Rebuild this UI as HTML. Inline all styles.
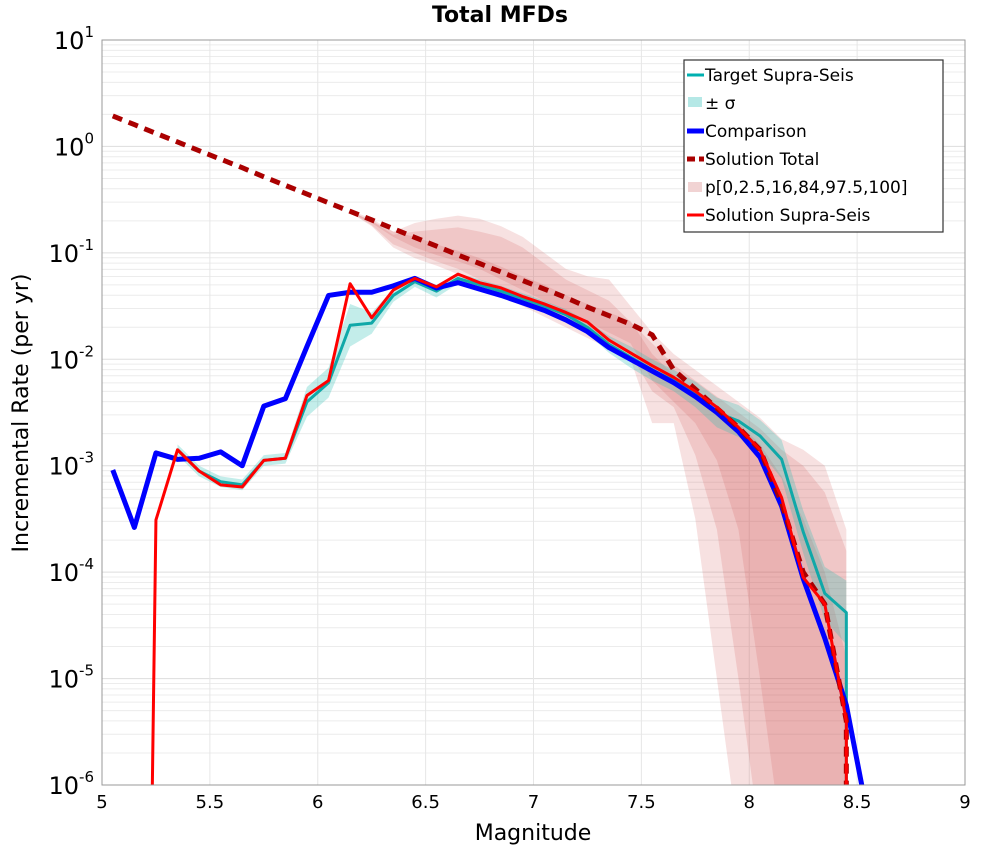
<!DOCTYPE html>
<html><head><meta charset="utf-8"><style>
body{margin:0;background:#fff;font-family:"Liberation Sans","DejaVu Sans",sans-serif}
svg text{font-family:"DejaVu Sans","Liberation Sans",sans-serif}
</style></head><body>
<svg id="chart" width="1000" height="850" xmlns="http://www.w3.org/2000/svg">
<defs><clipPath id="plotclip"><rect x="102" y="40" width="863" height="745"/></clipPath></defs>
<text x="500" y="22" text-anchor="middle" font-size="22" font-weight="bold">Total MFDs</text>
<g id="grid"></g>
<g id="bands" clip-path="url(#plotclip)"></g>
<g id="series" clip-path="url(#plotclip)"></g>
<g id="axes"></g>
<text x="533" y="840" text-anchor="middle" font-size="22">Magnitude</text>
<text transform="translate(28,413) rotate(-90)" text-anchor="middle" font-size="22">Incremental Rate (per yr)</text>
<g>
<rect x="684" y="60" width="259" height="172" fill="#fff" stroke="#333" stroke-width="1.2"/>
<g><line x1="687" y1="75" x2="704" y2="75" stroke="#00b0b0" stroke-width="3"/><text x="705" y="81" font-size="17">Target Supra-Seis</text></g>
<g><rect x="688" y="97" width="14" height="10" fill="#b5e8e6"/><text x="705" y="109" font-size="17">± σ</text></g>
<g><line x1="687" y1="131" x2="704" y2="131" stroke="#0000ff" stroke-width="5"/><text x="705" y="137" font-size="17">Comparison</text></g>
<g><line x1="687" y1="159" x2="704" y2="159" stroke="#aa0000" stroke-width="5" stroke-dasharray="8,4"/><text x="705" y="165" font-size="17">Solution Total</text></g>
<g><rect x="688" y="182" width="14" height="10" fill="#f1d3d3"/><text x="705" y="193" font-size="17">p[0,2.5,16,84,97.5,100]</text></g>
<g><line x1="687" y1="215" x2="704" y2="215" stroke="#ff0000" stroke-width="3"/><text x="705" y="221" font-size="17">Solution Supra-Seis</text></g>
</g>
</svg>
<script>
const magBins=[5.05,5.15,5.25,5.35,5.45,5.55,5.65,5.75,5.85,5.95,6.05,6.15,6.25,6.35,6.45,6.55,6.65,6.75,6.85,6.95,7.05,7.15,7.25,7.35,7.45,7.55,7.65,7.75,7.85,7.95,8.05,8.15,8.25,8.35,8.45,8.55];
const comparisonLog10=[-3.04,-3.58,-2.88,-2.94,-2.93,-2.87,-3.0,-2.44,-2.37,-1.88,-1.40,-1.37,-1.37,-1.31,-1.24,-1.33,-1.28,-1.34,-1.40,-1.47,-1.54,-1.63,-1.74,-1.89,-2.0,-2.11,-2.22,-2.35,-2.50,-2.68,-2.92,-3.38,-4.06,-4.62,-5.25,-6.3];
const supraMags=[5.23,5.25,5.35,5.45,5.55,5.65,5.75,5.85,5.95,6.05,6.15,6.25,6.35,6.45,6.55,6.65,6.75,6.85,6.95,7.05,7.15,7.25,7.35,7.45,7.55,7.65,7.75,7.85,7.95,8.05,8.15,8.25,8.35,8.45,8.45];
const solutionSupraLog10=[-7,-3.51,-2.85,-3.05,-3.18,-3.2,-2.95,-2.93,-2.34,-2.2,-1.29,-1.61,-1.35,-1.24,-1.32,-1.2,-1.28,-1.33,-1.41,-1.48,-1.56,-1.65,-1.82,-1.94,-2.06,-2.17,-2.3,-2.45,-2.64,-2.85,-3.3,-4.05,-4.3,-5.4,-7];
const targetMags=[5.35,5.45,5.55,5.65,5.75,5.85,5.95,6.05,6.15,6.25,6.35,6.45,6.55,6.65,6.75,6.85,6.95,7.05,7.15,7.25,7.35,7.45,7.55,7.65,7.75,7.85,7.95,8.05,8.15,8.25,8.35,8.45,8.45];
const targetLog10=[-2.85,-3.05,-3.15,-3.18,-2.95,-2.93,-2.4,-2.22,-1.68,-1.66,-1.4,-1.27,-1.36,-1.24,-1.3,-1.36,-1.43,-1.5,-1.58,-1.7,-1.86,-1.98,-2.1,-2.2,-2.33,-2.5,-2.58,-2.72,-2.94,-3.62,-4.2,-4.38,-7];
const targetSigma=[0.05,0.05,0.05,0.05,0.05,0.05,0.14,0.14,0.2,0.1,0.06,0.05,0.06,0.05,0.05,0.05,0.05,0.05,0.05,0.06,0.08,0.1,0.1,0.1,0.12,0.14,0.15,0.15,0.18,0.2,0.25,0.3,0];
const totalMags=[5.05,5.15,5.25,5.35,5.45,5.55,5.65,5.75,5.85,5.95,6.05,6.15,6.25,6.35,6.45,6.55,6.65,6.75,6.85,6.95,7.05,7.15,7.25,7.35,7.45,7.55,7.65,7.75,7.85,7.95,8.05,8.15,8.25,8.35,8.45,8.45];
const solutionTotalLog10=[0.286,0.205,0.123,0.042,-0.04,-0.12,-0.2,-0.285,-0.366,-0.448,-0.53,-0.61,-0.69,-0.773,-0.855,-0.936,-1.02,-1.1,-1.18,-1.26,-1.34,-1.42,-1.51,-1.59,-1.67,-1.77,-2.1,-2.28,-2.46,-2.64,-2.85,-3.35,-4.0,-4.3,-5.4,-7];
const bandMags=[6.15,6.25,6.35,6.45,6.55,6.65,6.75,6.85,6.95,7.05,7.15,7.25,7.35,7.45,7.55,7.65,7.75,7.85,7.95,8.05,8.15,8.25,8.35,8.45];
const p100Log10=[-0.6,-0.68,-0.8,-0.72,-0.68,-0.65,-0.68,-0.75,-0.85,-1.0,-1.15,-1.22,-1.25,-1.5,-1.75,-1.95,-2.1,-2.25,-2.4,-2.55,-2.75,-2.85,-3.0,-3.6];
const p0Log10=[-0.62,-0.75,-0.95,-1.05,-1.12,-1.2,-1.3,-1.4,-1.5,-1.6,-1.7,-1.8,-1.9,-2.0,-2.6,-2.6,-3.5,-5.0,-8,-8,-8,-8,-8,-8];
const p97Log10=[-0.61,-0.7,-0.83,-0.8,-0.78,-0.76,-0.8,-0.85,-0.95,-1.1,-1.25,-1.35,-1.45,-1.65,-1.85,-2.05,-2.2,-2.35,-2.5,-2.65,-2.85,-3.0,-3.25,-3.8];
const p2Log10=[-0.62,-0.74,-0.92,-1.0,-1.08,-1.15,-1.25,-1.35,-1.45,-1.55,-1.65,-1.75,-1.85,-1.95,-2.3,-2.45,-2.9,-3.6,-5.0,-8,-8,-8,-8,-8];
const p84Log10=[-0.61,-0.7,-0.8,-0.85,-0.92,-0.98,-1.05,-1.13,-1.22,-1.3,-1.4,-1.48,-1.56,-1.64,-1.95,-2.15,-2.3,-2.45,-2.6,-2.8,-3.1,-3.5,-4.0,-4.8];
const p16Log10=[-0.62,-0.72,-0.85,-0.95,-1.02,-1.08,-1.15,-1.25,-1.35,-1.45,-1.55,-1.65,-1.75,-1.85,-2.2,-2.4,-2.6,-2.95,-3.6,-5.0,-8,-8,-8,-8];
const xTicks=[5,5.5,6,6.5,7,7.5,8,8.5,9];
const yExps=[1,0,-1,-2,-3,-4,-5,-6];

const NS="http://www.w3.org/2000/svg";
const L=102,R=965,T=40,B=785;
function sx(m){return L+(m-5)/4*(R-L);}
function sy(lg){lg=Math.max(-6.5,Math.min(1.2,lg));return T+(1-lg)/7*(B-T);}
function mk(tag,parent,attrs){const e=document.createElementNS(NS,tag);for(const k in attrs)e.setAttribute(k,attrs[k]);parent.appendChild(e);return e;}
const grid=document.getElementById('grid'),axes=document.getElementById('axes'),bands=document.getElementById('bands'),series=document.getElementById('series');
for(let d=-6;d<1;d++){for(let k=2;k<=9;k++){const y=sy(d+Math.log10(k));
const g=mk('line',grid,{x1:L,x2:R,y1:y,y2:y,stroke:'#ececec','stroke-width':1});

}}
yExps.forEach(e=>{const y=sy(e);const g=mk('line',grid,{x1:L,x2:R,y1:y,y2:y,stroke:'#dddddd','stroke-width':1});


const t=mk('text',axes,{x:L-8,y:y+9,'text-anchor':'end','font-size':24});t.textContent='10';


const s=mk('tspan',t,{dy:-12,'font-size':15});s.textContent=String(e);});
xTicks.forEach(m=>{const x=sx(m);const g=mk('line',grid,{x1:x,x2:x,y1:T,y2:B,stroke:'#e6e6e6','stroke-width':1});


const t=mk('text',axes,{x:x,y:B+23,'text-anchor':'middle','font-size':18});t.textContent=String(m);

});
const frame=mk('rect',axes,{x:L,y:T,width:R-L,height:B-T,fill:'none',stroke:'#999','stroke-width':1});


function band(mags,hi,lo,fill,name){let p=mags.map((m,i)=>sx(m)+','+sy(hi[i]));for(let i=mags.length-1;i>=0;i--)p.push(sx(mags[i])+','+sy(lo[i]));
const e=mk('polygon',bands,{points:p.join(' '),fill:fill});

}
band(bandMags,p100Log10,p0Log10,'rgba(205,70,70,0.16)','band-p0-p100');
band(bandMags,p97Log10,p2Log10,'rgba(205,70,70,0.16)','band-p2.5-p97.5');
band(bandMags,p84Log10,p16Log10,'rgba(205,70,70,0.16)','band-p16-p84');
band(targetMags,targetLog10.map((v,i)=>v+targetSigma[i]),targetLog10.map((v,i)=>v-targetSigma[i]),'rgba(40,190,180,0.28)','target-sigma-band');
function line(mags,vals,attrs,name){const e=mk('polyline',series,Object.assign({points:mags.map((m,i)=>sx(m)+','+sy(vals[i])).join(' '),fill:'none','stroke-linejoin':'round'},attrs));

}
line(targetMags,targetLog10,{stroke:'#10a8a8','stroke-width':3},'target-supra-seis-line');
line(magBins,comparisonLog10,{stroke:'#0000ff','stroke-width':5},'comparison-line');
line(totalMags,solutionTotalLog10,{stroke:'#aa0000','stroke-width':5,'stroke-dasharray':'10,7'},'solution-total-line');
line(supraMags,solutionSupraLog10,{stroke:'#ff0000','stroke-width':3},'solution-supra-seis-line');
</script>
</body></html>
